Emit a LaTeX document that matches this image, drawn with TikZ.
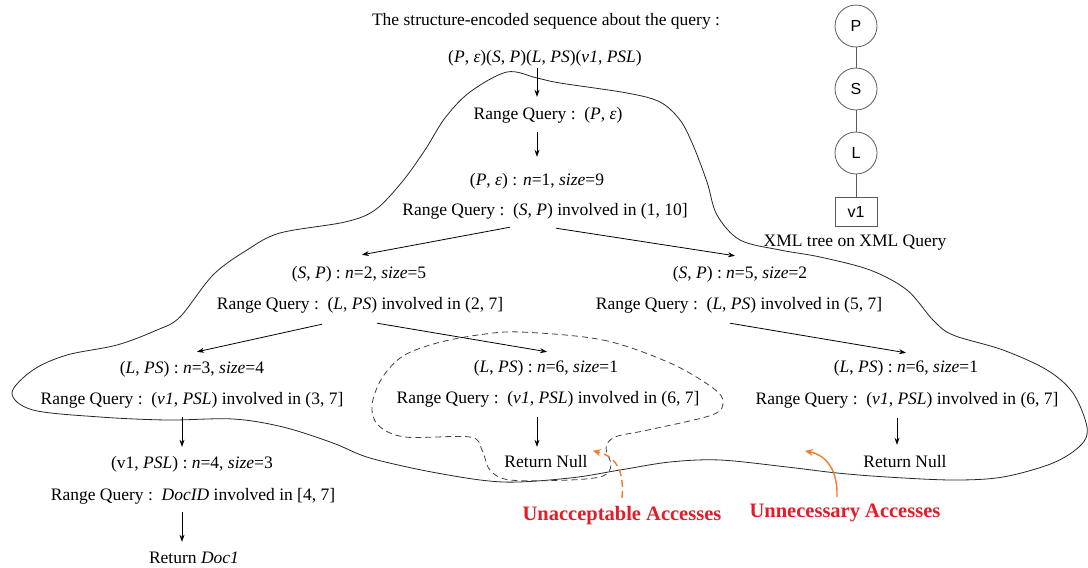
\documentclass[tikz,border=0pt]{standalone}
\usepackage{fontspec}
\setmainfont{Liberation Serif}
\newfontfamily\treefont{Liberation Sans}
\usetikzlibrary{arrows.meta,calc}
\definecolor{accred}{RGB}{226,28,40}
\definecolor{accorange}{RGB}{237,125,49}
\definecolor{treegray}{RGB}{90,90,90}
\newcommand\ita[1]{\textit{#1}}
\newcommand\rqry{Range Query :\ \ }
\begin{document}
\begin{tikzpicture}[x=1pt,y=-1pt,
  txt/.style={anchor=base,inner sep=0pt,text height=13pt,text depth=4pt,
    font=\fontsize{17.5}{20}\selectfont},
  acc/.style={anchor=base,inner sep=0pt,text height=14pt,text depth=0pt,
    font=\fontsize{20.5}{24}\selectfont\bfseries,text=accred},
  arr/.style={-{Stealth[length=7pt,width=5pt]},line width=0.8pt},
  tnode/.style={circle,draw=treegray,line width=0.8pt,minimum size=42pt,
    inner sep=0pt,font=\treefont\fontsize{16}{18}\selectfont},
  tleaf/.style={rectangle,draw=treegray,line width=0.8pt,minimum width=42pt,
    minimum height=29pt,inner sep=0pt,font=\treefont\fontsize{16}{18}\selectfont},
  tedge/.style={draw=treegray,line width=0.8pt},
  region/.style={line width=0.8pt,draw=black!85},
  subregion/.style={line width=0.8pt,draw=black!75,dash pattern=on 6pt off 4pt}]
\useasboundingbox (0,0) rectangle (1088,568);

% accessed region of the index
\draw[region] plot[smooth cycle,tension=0.55] coordinates {
  (507,72) (537,78) (560,83) (627,93) (660,102) (680,120) (693,145) (707,182)
  (717,215) (740,240) (780,250) (820,257) (870,270) (907,290) (933,320) (953,335)
  (1003,350) (1047,370) (1073,393) (1087,427) (1081,445) (1053,463) (1003,477)
  (953,480) (887,477) (837,473) (787,467) (720,460) (670,462) (620,470) (570,478)
  (503,482) (437,473) (370,458) (333,443) (283,427) (233,419) (167,420) (100,417)
  (33,410) (12,393) (33,370) (67,355) (117,345) (157,330) (180,317) (213,275)
  (247,250) (280,233) (345,222) (375,210) (402,182) (425,150) (445,118) (470,92)};

% dashed sub-region
\draw[subregion] plot[smooth cycle,tension=0.55] coordinates {
  (520,332) (603,340) (670,363) (713,388) (723,402) (712,415) (648,430) (615,437)
  (606,448) (611,465) (603,476) (570,480) (510,480) (490,470) (482,450) (470,437)
  (405,437) (378,425) (372,405) (382,378) (403,356) (437,343) (478,335)};

% query sequence and search steps
\node[txt] (title) at (546,25) {The structure-encoded sequence about the query :};
\node[txt] (seq) at (545,62) {(\ita{P}, \ita{ε})(\ita{S}, \ita{P})(\ita{L}, \ita{PS})(\ita{v1}, \ita{PSL})};
\node[txt] (rq0) at (548,119) {\rqry(\ita{P}, \ita{ε})};
\node[txt] (n1) at (537,185) {(\ita{P}, \ita{ε}) : \ita{n}=1, \ita{size}=9};
\node[txt] (rq1) at (545,215) {\rqry(\ita{S}, \ita{P}) involved in (1, 10]};

\node[txt] (sp2) at (359,278) {(\ita{S}, \ita{P}) : \ita{n}=2, \ita{size}=5};
\node[txt] (rq2) at (360,309) {\rqry(\ita{L}, \ita{PS}) involved in (2, 7]};
\node[txt] (sp5) at (740,278) {(\ita{S}, \ita{P}) : \ita{n}=5, \ita{size}=2};
\node[txt] (rq5) at (739,309) {\rqry(\ita{L}, \ita{PS}) involved in (5, 7]};

\node[txt] (ln3) at (192,373) {(\ita{L}, \ita{PS}) : \ita{n}=3, \ita{size}=4};
\node[txt] (rq3) at (192,404) {\rqry(\ita{v1}, \ita{PSL}) involved in (3, 7]};
\node[txt] (ln6) at (546,372) {(\ita{L}, \ita{PS}) : \ita{n}=6, \ita{size}=1};
\node[txt] (rq6) at (548,403) {\rqry(\ita{v1}, \ita{PSL}) involved in (6, 7]};
\node[txt] (ln6r) at (906,372) {(\ita{L}, \ita{PS}) : \ita{n}=6, \ita{size}=1};
\node[txt] (rq6r) at (907,404) {\rqry(\ita{v1}, \ita{PSL}) involved in (6, 7]};

\node[txt] (v1n) at (192,468) {(v1, \ita{PSL}) : \ita{n}=4, \ita{size}=3};
\node[txt] (rqd) at (193,500) {\rqry\ita{DocID} involved in [4, 7]};
\node[txt] (doc) at (194,563) {Return \ita{Doc1}};
\node[txt] (rn) at (546,467) {Return Null};
\node[txt] (rnr) at (905,467) {Return Null};

\draw[arr] ($(seq.south)+(-8,2)$) -- ($(rq0.north)+(-11,-9)$);
\draw[arr] ($(rq0.south)+(-11,9)$) -- ($(n1.north)+(0,-15)$);
\draw[arr] ($(rq1.south)+(-35,8)$) -- ($(sp2.north)+(3,-10)$);
\draw[arr] ($(rq1.south)+(11,9)$) -- ($(sp5.north)+(-5,-9)$);
\draw[arr] ($(rq2.south)+(-38,11)$) -- ($(ln3.north)+(5,-8)$);
\draw[arr] ($(rq2.south)+(17,10)$) -- ($(ln6.north)+(1,-7)$);
\draw[arr] ($(rq5.south)+(-9,10)$) -- ($(ln6r.north)+(0,-6)$);
\draw[arr] ($(rq3.south)+(-10,9)$) -- ($(v1n.north)+(-10,-8)$);
\draw[arr] ($(rqd.south)+(-11,8)$) -- ($(doc.north)+(-12,-8)$);
\draw[arr] ($(rq6.south)+(-11,10)$) -- ($(rn.north)+(-9,-7)$);
\draw[arr] ($(rq6r.south)+(-10,10)$) -- ($(rnr.north)+(-8,-9)$);

% XML query tree
\node[tnode] (tP) at (856,26) {P};
\node[tnode] (tS) at (856,89) {S};
\node[tnode] (tL) at (856,153) {L};
\node[tleaf] (tv) at (856,212) {v1};
\draw[tedge] (tP) -- (tS);
\draw[tedge] (tS) -- (tL);
\draw[tedge] (tL) -- (tv);
\node[txt] (tcap) at (855,246) {XML tree on XML Query};

% access annotations
\node[acc] (unacc) at (622,520) {Unacceptable Accesses};
\node[acc] (unnec) at (845,517) {Unnecessary Accesses};
\coordinate (unnTip) at (805,451);
\draw[accorange,line width=1.4pt,dash pattern=on 7pt off 4pt,-{Stealth[length=8pt,width=7pt]}]
  ($(unacc.north)+(0,-8)$) .. controls (624,475) and (619,457) .. ($(rn.north east)+(5,-3)$);
\draw[accorange,line width=1.4pt,-{Stealth[length=8pt,width=7pt]}]
  ($(unnec.north)+(-8,-6)$) .. controls (838,470) and (826,455) .. (unnTip);
\end{tikzpicture}
\end{document}
